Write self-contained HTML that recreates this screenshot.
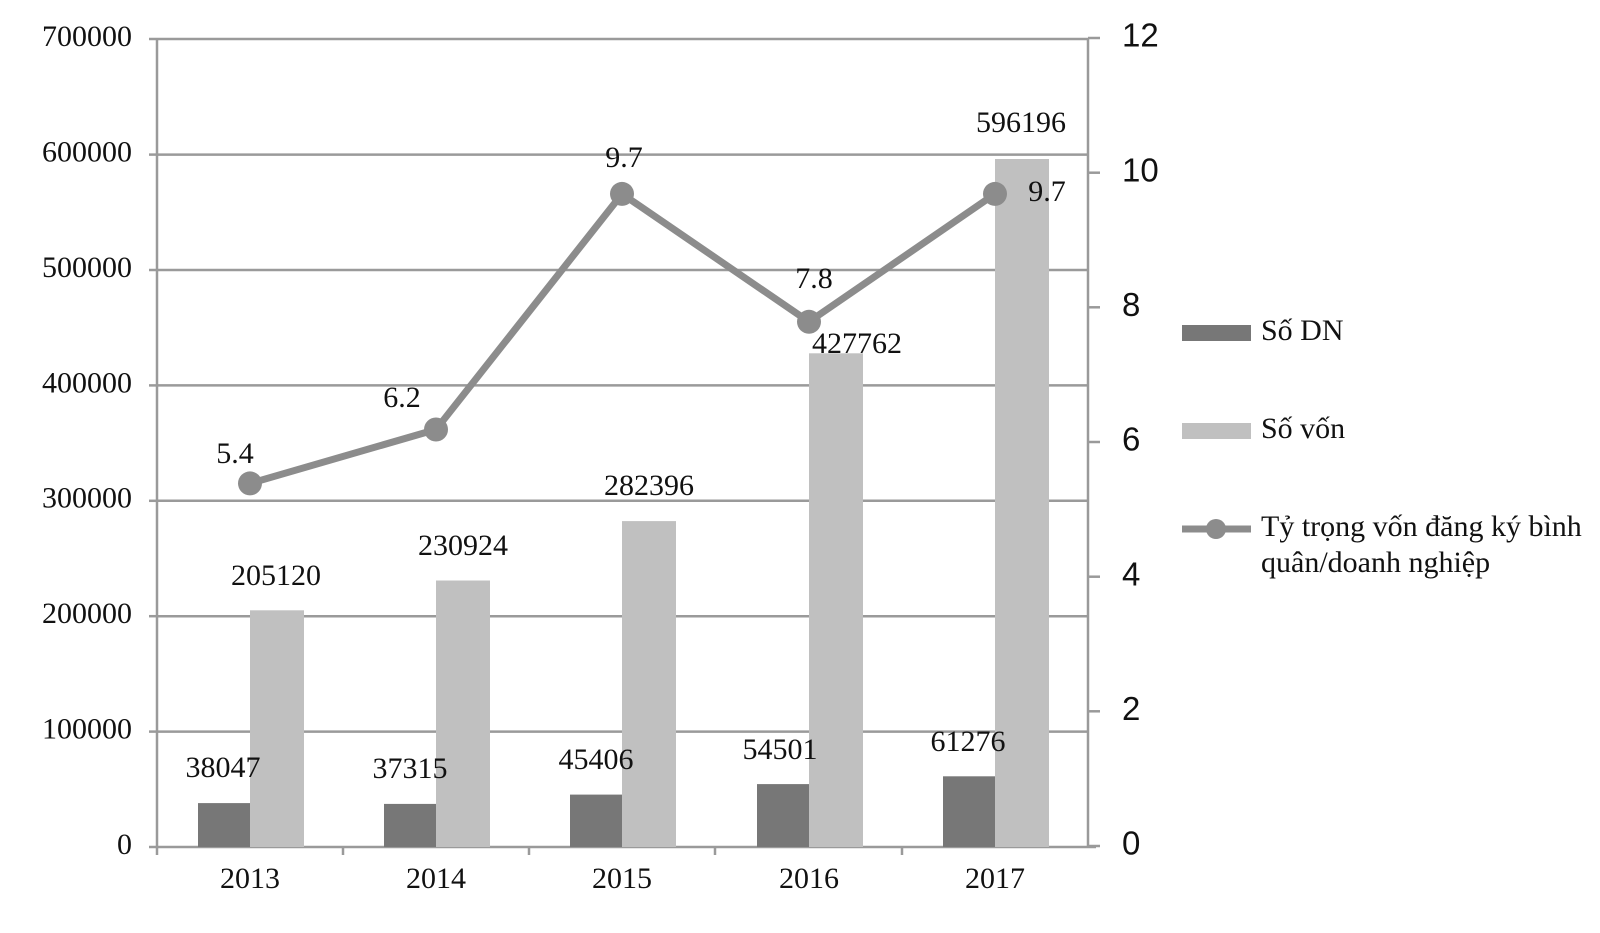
<!DOCTYPE html>
<html><head><meta charset="utf-8"><style>html,body{margin:0;padding:0;background:#fff}</style></head>
<body>
<svg width="1600" height="928" xmlns="http://www.w3.org/2000/svg" font-family="'Liberation Serif', serif">
<g stroke="#9a9a9a" stroke-width="2.5">
<line x1="157" y1="39" x2="1088" y2="39"/>
<line x1="157" y1="154.6" x2="1088" y2="154.6"/>
<line x1="157" y1="270" x2="1088" y2="270"/>
<line x1="157" y1="385.4" x2="1088" y2="385.4"/>
<line x1="157" y1="500.8" x2="1088" y2="500.8"/>
<line x1="157" y1="616.2" x2="1088" y2="616.2"/>
<line x1="157" y1="731.6" x2="1088" y2="731.6"/>
<line x1="149" y1="847" x2="1096" y2="847"/>
<line x1="157" y1="39" x2="157" y2="855"/>
<line x1="1088" y1="39" x2="1088" y2="847"/>
<line x1="149" y1="39" x2="157" y2="39"/><line x1="149" y1="154.6" x2="157" y2="154.6"/><line x1="149" y1="270" x2="157" y2="270"/><line x1="149" y1="385.4" x2="157" y2="385.4"/><line x1="149" y1="500.8" x2="157" y2="500.8"/><line x1="149" y1="616.2" x2="157" y2="616.2"/><line x1="149" y1="731.6" x2="157" y2="731.6"/>
<line x1="1088" y1="38" x2="1100" y2="38"/><line x1="1088" y1="172.7" x2="1100" y2="172.7"/><line x1="1088" y1="307.3" x2="1100" y2="307.3"/><line x1="1088" y1="442" x2="1100" y2="442"/><line x1="1088" y1="576.7" x2="1100" y2="576.7"/><line x1="1088" y1="711.3" x2="1100" y2="711.3"/><line x1="1088" y1="846" x2="1100" y2="846"/>
<line x1="343" y1="847" x2="343" y2="855"/><line x1="529" y1="847" x2="529" y2="855"/><line x1="715" y1="847" x2="715" y2="855"/><line x1="902" y1="847" x2="902" y2="855"/>
</g>
<g fill="#777">
<rect x="198" y="803.1" width="52" height="43.9"/>
<rect x="384" y="803.9" width="52" height="43.1"/>
<rect x="570" y="794.6" width="52" height="52.4"/>
<rect x="757" y="784.1" width="52" height="62.9"/>
<rect x="943" y="776.3" width="52" height="70.7"/>
</g>
<g fill="#c0c0c0">
<rect x="250" y="610.3" width="54" height="236.7"/>
<rect x="436" y="580.5" width="54" height="266.5"/>
<rect x="622" y="521.1" width="54" height="325.9"/>
<rect x="809" y="353.3" width="54" height="493.7"/>
<rect x="995" y="159" width="54" height="688"/>
</g>
<polyline points="250,483.4 436,429.5 622,193.9 809,321.8 995,193.9" fill="none" stroke="#8c8c8c" stroke-width="7" stroke-linejoin="round"/>
<g fill="#8c8c8c"><circle cx="250" cy="483.4" r="12"/><circle cx="436" cy="429.5" r="12"/><circle cx="622" cy="193.9" r="12"/><circle cx="809" cy="321.8" r="12"/><circle cx="995" cy="193.9" r="12"/></g>
<g font-size="30" fill="#111" text-anchor="end" dominant-baseline="middle">
<text x="132" y="39">700000</text><text x="132" y="154.6">600000</text><text x="132" y="270">500000</text><text x="132" y="385.4">400000</text><text x="132" y="500.8">300000</text><text x="132" y="616.2">200000</text><text x="132" y="731.6">100000</text><text x="132" y="847">0</text>
</g>
<g font-size="33" fill="#111" font-family="'Liberation Sans', sans-serif" dominant-baseline="middle">
<text x="1122" y="38">12</text><text x="1122" y="172.7">10</text><text x="1122" y="307.3">8</text><text x="1122" y="442">6</text><text x="1122" y="576.7">4</text><text x="1122" y="711.3">2</text><text x="1122" y="846">0</text>
</g>
<g font-size="30" fill="#111" text-anchor="middle" dominant-baseline="middle">
<text x="250" y="881">2013</text><text x="436" y="881">2014</text><text x="622" y="881">2015</text><text x="809" y="881">2016</text><text x="995" y="881">2017</text>
<text x="235" y="456">5.4</text><text x="402" y="400">6.2</text><text x="624" y="160">9.7</text><text x="814" y="281">7.8</text><text x="1047" y="194">9.7</text>
<text x="276" y="578">205120</text><text x="463" y="548">230924</text><text x="649" y="488">282396</text><text x="857" y="346">427762</text><text x="1021" y="125">596196</text>
<text x="223" y="770">38047</text><text x="410" y="771">37315</text><text x="596" y="762">45406</text><text x="780" y="752">54501</text><text x="968" y="744">61276</text>
</g>
<rect x="1182" y="325" width="69" height="16" fill="#777"/>
<rect x="1182" y="423" width="69" height="16" fill="#c0c0c0"/>
<line x1="1182" y1="529" x2="1251" y2="529" stroke="#8c8c8c" stroke-width="7"/>
<circle cx="1216" cy="529" r="10" fill="#8c8c8c"/>
<g font-size="30" fill="#111" dominant-baseline="middle">
<text x="1261" y="333">Số DN</text>
<text x="1261" y="431">Số vốn</text>
<text x="1261" y="529">Tỷ trọng vốn đăng ký bình</text>
<text x="1261" y="565">quân/doanh nghiệp</text>
</g>
</svg>
</body></html>
